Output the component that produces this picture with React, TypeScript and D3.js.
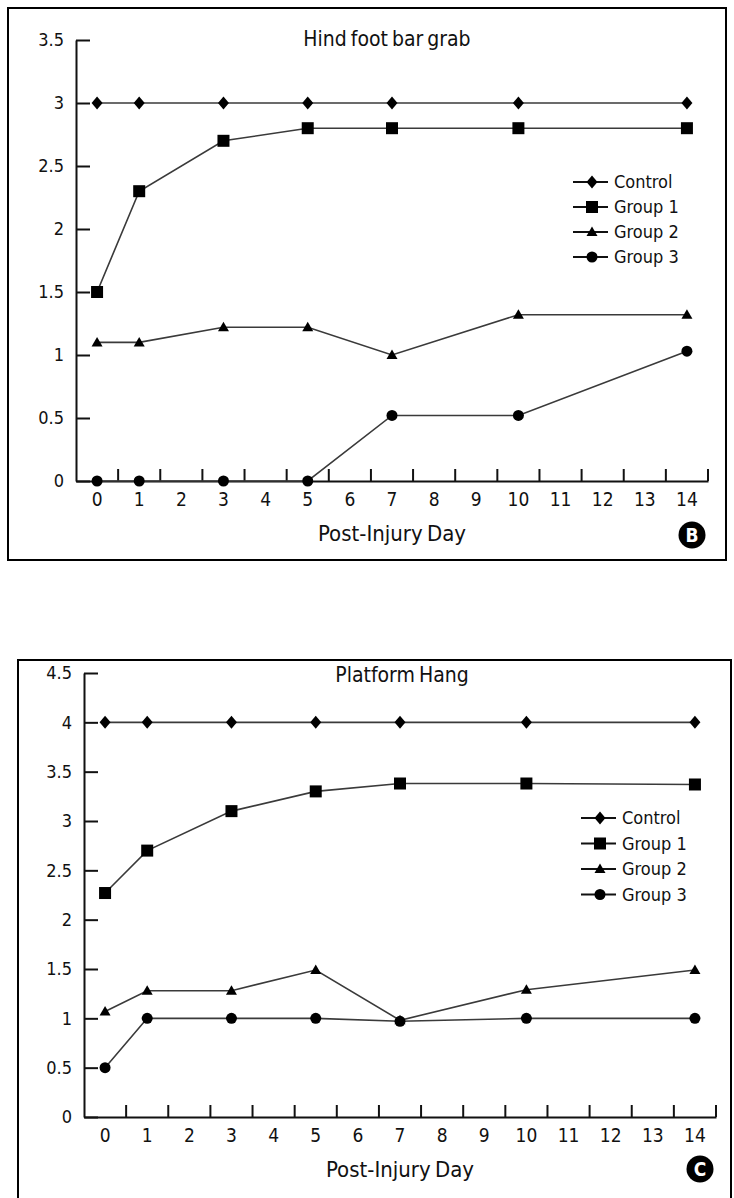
import React, { useEffect, useRef } from "react";
import * as d3 from "d3";

// x categories and the days that actually have measurements
const dayLabels = ["0", "1", "2", "3", "4", "5", "6", "7", "8", "9", "10", "11", "12", "13", "14"];
const days = [0, 1, 3, 5, 7, 10, 14];
const seriesNames = ["Control", "Group 1", "Group 2", "Group 3"];
const markerShapes = ["diamond", "square", "triangle", "circle"];

// panel B: hind foot bar grab
const hindTicks = [0, 0.5, 1, 1.5, 2, 2.5, 3, 3.5];
const hindControl = [3, 3, 3, 3, 3, 3, 3];
const hindGroup1 = [1.5, 2.3, 2.7, 2.8, 2.8, 2.8, 2.8];
const hindGroup2 = [1.1, 1.1, 1.22, 1.22, 1.0, 1.32, 1.32];
const hindGroup3 = [0, 0, 0, 0, 0.52, 0.52, 1.03];

// panel C: platform hang
const hangTicks = [0, 0.5, 1, 1.5, 2, 2.5, 3, 3.5, 4, 4.5];
const hangControl = [4, 4, 4, 4, 4, 4, 4];
const hangGroup1 = [2.27, 2.7, 3.1, 3.3, 3.38, 3.38, 3.37];
const hangGroup2 = [1.07, 1.28, 1.28, 1.49, 0.98, 1.29, 1.49];
const hangGroup3 = [0.5, 1, 1, 1, 0.97, 1, 1];

const FONT = "'Liberation Sans Narrow', 'DejaVu Sans Condensed', 'Arial Narrow', sans-serif";

type PanelCfg = {
  title: string;
  badge: string;
  ticks: number[];
  series: number[][];
  box: { x: number; y: number; w: number; h: number };
  left: number;
  right: number;
  top: number;
  bottom: number;
  titleX: number;
  titleY: number;
  legendX: number;
  legendY: number;
  legendStep: number;
  badgeX: number;
  badgeY: number;
};

const panels: PanelCfg[] = [
  {
    title: "Hind foot bar grab",
    badge: "B",
    ticks: hindTicks,
    series: [hindControl, hindGroup1, hindGroup2, hindGroup3],
    box: { x: 8, y: 8, w: 718, h: 552 },
    left: 76, right: 708, top: 40, bottom: 481,
    titleX: 387, titleY: 39,
    legendX: 573, legendY: 182, legendStep: 25,
    badgeX: 692, badgeY: 535,
  },
  {
    title: "Platform Hang",
    badge: "C",
    ticks: hangTicks,
    series: [hangControl, hangGroup1, hangGroup2, hangGroup3],
    box: { x: 18, y: 660, w: 713, h: 560 },
    left: 84, right: 716, top: 673, bottom: 1117,
    titleX: 402, titleY: 675,
    legendX: 581, legendY: 818, legendStep: 25.5,
    badgeX: 700, badgeY: 1169,
  },
];

const drawMarker = (g: any, shape: string, cx: number, cy: number) => {
  if (shape === "diamond") {
    g.append("path")
      .attr("d", `M${cx},${cy - 6.5}L${cx + 5.5},${cy}L${cx},${cy + 6.5}L${cx - 5.5},${cy}Z`)
      .attr("fill", "#000");
  } else if (shape === "square") {
    g.append("rect")
      .attr("x", cx - 6).attr("y", cy - 6)
      .attr("width", 12).attr("height", 12)
      .attr("fill", "#000");
  } else if (shape === "triangle") {
    g.append("path")
      .attr("d", `M${cx},${cy - 5.5}L${cx + 5.5},${cy + 4}L${cx - 5.5},${cy + 4}Z`)
      .attr("fill", "#000");
  } else {
    g.append("circle").attr("cx", cx).attr("cy", cy).attr("r", 5.5).attr("fill", "#000");
  }
};

const drawPanel = (svg: any, cfg: PanelCfg) => {
  const x = d3.scaleBand<string>().domain(dayLabels).range([cfg.left, cfg.right]).padding(0);
  const y = d3.scaleLinear().domain([0, d3.max(cfg.ticks) as number]).range([cfg.bottom, cfg.top]);
  const bw = x.bandwidth();
  const cx = (day: number) => (x(String(day)) as number) + bw / 2;

  const g = svg.append("g");

  g.append("rect")
    .attr("x", cfg.box.x).attr("y", cfg.box.y)
    .attr("width", cfg.box.w).attr("height", cfg.box.h)
    .attr("fill", "none").attr("stroke", "#000").attr("stroke-width", 2);

  // y axis, ticks pointing inward
  const yAxis = g.append("g")
    .attr("transform", `translate(${cfg.left},0)`)
    .call(d3.axisLeft(y).tickValues(cfg.ticks).tickSize(-14).tickSizeOuter(0).tickPadding(12)
      .tickFormat((d: any) => String(d)));
  yAxis.selectAll("path, line").attr("stroke", "#111").attr("stroke-width", 2);
  yAxis.selectAll("text")
    .attr("font-family", FONT).attr("font-size", 18).attr("fill", "#111");

  // x axis: labels at band centres, ticks at band edges
  const xAxis = g.append("g")
    .attr("transform", `translate(0,${cfg.bottom})`)
    .call(d3.axisBottom(x).tickSize(0).tickPadding(12));
  xAxis.select(".domain").attr("stroke", "#111").attr("stroke-width", 2);
  xAxis.selectAll("text")
    .attr("font-family", FONT).attr("font-size", 19).attr("fill", "#111");
  g.append("g")
    .selectAll("line")
    .data(dayLabels)
    .join("line")
    .attr("x1", (d: string) => (x(d) as number) + bw)
    .attr("x2", (d: string) => (x(d) as number) + bw)
    .attr("y1", cfg.bottom)
    .attr("y2", cfg.bottom - 12)
    .attr("stroke", "#111").attr("stroke-width", 2);

  // series
  const line = d3.line<number>()
    .x((_, i) => cx(days[i]))
    .y(d => y(d));

  cfg.series.forEach(vals => {
    g.append("path")
      .attr("d", line(vals))
      .attr("fill", "none")
      .attr("stroke", "#3a3a3a")
      .attr("stroke-width", 1.6);
  });
  cfg.series.forEach((vals, si) => {
    vals.forEach((v, i) => drawMarker(g, markerShapes[si], cx(days[i]), y(v)));
  });

  // legend
  seriesNames.forEach((name, i) => {
    const ly = cfg.legendY + i * cfg.legendStep;
    g.append("line")
      .attr("x1", cfg.legendX).attr("x2", cfg.legendX + 35)
      .attr("y1", ly).attr("y2", ly)
      .attr("stroke", "#111").attr("stroke-width", 1.8);
    drawMarker(g, markerShapes[i], cfg.legendX + 19, ly);
    g.append("text")
      .attr("x", cfg.legendX + 41).attr("y", ly)
      .attr("dy", "0.35em")
      .attr("font-family", FONT).attr("font-size", 18).attr("fill", "#111")
      .text(name);
  });

  // titles
  g.append("text")
    .attr("x", cfg.titleX).attr("y", cfg.titleY)
    .attr("dy", "0.35em").attr("text-anchor", "middle")
    .attr("font-family", FONT).attr("font-size", 21).attr("fill", "#111")
    .attr("word-spacing", -2)
    .text(cfg.title);

  g.append("text")
    .attr("x", (cfg.left + cfg.right) / 2).attr("y", cfg.bottom + 52)
    .attr("dy", "0.35em").attr("text-anchor", "middle")
    .attr("font-family", FONT).attr("font-size", 22).attr("fill", "#111")
    .attr("word-spacing", -2)
    .text("Post-Injury Day");

  // panel badge
  g.append("circle")
    .attr("cx", cfg.badgeX).attr("cy", cfg.badgeY).attr("r", 13.5)
    .attr("fill", "#000");
  g.append("text")
    .attr("x", cfg.badgeX).attr("y", cfg.badgeY)
    .attr("dy", "0.36em").attr("text-anchor", "middle")
    .attr("font-family", FONT).attr("font-size", 19).attr("font-weight", "bold")
    .attr("fill", "#fff")
    .text(cfg.badge);
};

const App = () => {
  const ref = useRef<SVGSVGElement>(null);

  useEffect(() => {
    const svg = d3.select(ref.current);
    svg.selectAll("*").remove();
    panels.forEach(p => drawPanel(svg, p));
  }, []);

  return (
    <svg
      ref={ref}
      width={734}
      height={1198}
      style={{ position: "absolute", left: 0, top: 0, background: "#fff" }}
    />
  );
};

export default App;
